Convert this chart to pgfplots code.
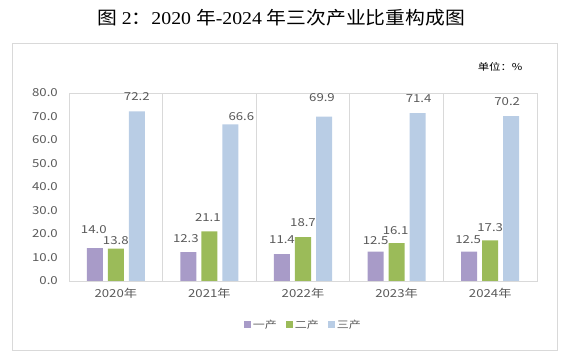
\documentclass[border=0pt]{standalone}
\usepackage{pgfplots}
\pgfplotsset{compat=1.18}
\usepackage{pgfplotstable}
\usepackage{fontspec}
\setmainfont{Noto Sans CJK SC}[FakeStretch=1.2]
\newfontfamily\cjkt{Noto Sans CJK SC}[FakeStretch=1.1]
\newfontfamily\serift{Liberation Serif}[FakeStretch=1.1]

\definecolor{cone}{RGB}{168,155,200}
\definecolor{ctwo}{RGB}{155,187,89}
\definecolor{cthree}{RGB}{185,205,229}
\definecolor{tgray}{RGB}{89,89,89}
\definecolor{lgray}{RGB}{217,217,217}

\pgfplotstableread{
x y dx dy
0 14.0 -1 14
1 12.3 -2.5 9
2 11.4 0 10
3 12.5 0 7
4 12.5 -1 8
}\one
\pgfplotstableread{
x y dx dy
0 13.8 0 4
1 21.1 -1.5 10
2 18.7 0 10
3 16.1 -1 8
4 17.3 0 9
}\two
\pgfplotstableread{
x y dx dy
0 72.2 0 10
1 66.6 11 4
2 69.9 -2 15
3 71.4 1 10
4 70.2 -4 10
}\three

\begin{document}
\begin{tikzpicture}[x=1pt,y=1pt]
\path[use as bounding box] (0,0) rectangle (568,358);
\draw[lgray, line width=0.8pt] (12,8) rectangle (557,315);
\node[font=\fontsize{18}{20}\selectfont] at (281,340)
  {{\cjkt 图}\serift{} 2{\cjkt ：}\serift 2020 {\cjkt 年}\serift -2024 {\cjkt 年三次产业比重构成图}};
\node[anchor=east, font=\fontsize{9.5}{11}\selectfont, text=black] at (526,291) {单位：\%};
\begin{axis}[
  at={(69pt,77pt)}, anchor=south west,
  scale only axis, width=468pt, height=188pt,
  ybar=5pt, bar width=16pt,
  xmin=-0.5, xmax=4.5, ymin=0, ymax=80,
  enlargelimits=false,
  axis line style={draw=lgray, line width=0.8pt},
  xtick={0,1,2,3,4},
  xticklabels={2020年,2021年,2022年,2023年,2024年},
  ytick={0,10,...,80},
  major tick length=0pt,
  tick style={draw=none},
  /pgf/number format/assume math mode=true,
  /pgf/number format/.cd, fixed, zerofill, precision=1, /pgfplots/.cd,
  ticklabel style={font=\fontsize{11}{13}\selectfont, text=tgray},
  yticklabel style={anchor=east, inner sep=0pt, xshift=-11pt},
  xticklabel style={anchor=north, inner sep=0pt, yshift=-7pt},
  extra x ticks={0.5,1.5,2.5,3.5},
  extra x tick labels={},
  extra x tick style={grid=major, major grid style={draw=lgray, line width=0.8pt}},
  nodes near coords,
  every node near coord/.append style={font=\fontsize{11}{13}\selectfont, text=tgray, anchor=south, inner sep=0pt, xshift=\dx pt, yshift=\dy pt},
  visualization depends on={\thisrow{dx} \as \dx},
  visualization depends on={\thisrow{dy} \as \dy},
  legend style={draw=none, fill=none, at={(0.501,-0.234)}, anchor=center,
    legend columns=3, font=\fontsize{10}{12}\selectfont, text=tgray,
    /tikz/every even column/.append style={column sep=7pt}},
  legend image code/.code={\fill[#1] (0pt,-3.5pt) rectangle (7pt,3.5pt);},
]
\addplot[fill=cone, draw=none] table[x=x,y=y] {\one};
\addplot[fill=ctwo, draw=none] table[x=x,y=y] {\two};
\addplot[fill=cthree, draw=none] table[x=x,y=y] {\three};
\legend{一产,二产,三产}
\end{axis}
\end{tikzpicture}
\end{document}
